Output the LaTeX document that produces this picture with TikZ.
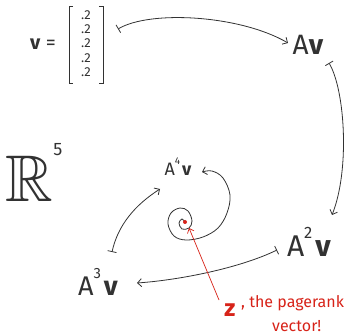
\documentclass[tikz,border=0pt]{standalone}
\usepackage{fontspec}
\usepackage{amssymb}
\usepackage{graphicx}
\setmainfont{Fira Sans}
\usetikzlibrary{arrows.meta}
\definecolor{ink}{RGB}{50,50,50}
\definecolor{redink}{RGB}{215,35,25}
\newcommand\apow[1]{A\raisebox{0.62em}{\scalebox{0.55}{#1}}\kern0.1em\textbf{v}}
\tikzset{
  lbl/.style={inner sep=0pt, text=ink},
  bracketline/.style={draw=ink, line width=0.8pt},
  conn/.style={draw=ink, line width=0.8pt,
    {Bar[width=9pt,line width=0.8pt]}-{Straight Barb[length=4pt,width=8pt,line width=0.8pt]}},
  spiral/.style={draw=ink, line width=0.8pt,
    -{Straight Barb[length=4pt,width=8pt,line width=0.8pt]}},
  redline/.style={draw=redink, line width=0.7pt,
    -{Straight Barb[length=4pt,width=7pt,line width=0.7pt]}}
}
\begin{document}
\begin{tikzpicture}[x=1pt,y=-1pt]
\useasboundingbox (0,0) rectangle (354,334);
% labels
\node[lbl, font=\fontsize{20}{20}\selectfont] (vlab) at (43,44) {\textbf{v} =};
\node[lbl, inner xsep=12pt, inner ysep=2pt, font=\fontsize{13}{14.4}\selectfont] (vec) at (86,45)
  {\setlength\tabcolsep{0pt}\begin{tabular}{c}.2\\.2\\.2\\.2\\.2\end{tabular}};
\draw[bracketline] ([xshift=4pt]vec.north west) -| (vec.south west) -- ++(4,0);
\draw[bracketline] ([xshift=-4pt]vec.north east) -| (vec.south east) -- ++(-4,0);
\node[lbl, font=\fontsize{28}{28}\selectfont] (Av) at (308,45) {A\textbf{v}};
\node[lbl, font=\fontsize{30}{30}\selectfont] (A2v) at (309,242) {\apow{2}};
\node[lbl, font=\fontsize{27}{27}\selectfont] (A3v) at (98,282) {\apow{3}};
\node[lbl, font=\fontsize{18}{18}\selectfont] (A4v) at (178,167) {\apow{4}};
\node[lbl, font=\fontsize{66}{66}\selectfont] (R) at (29,179) {$\mathbb{R}$};
\node[lbl, font=\fontsize{18}{18}\selectfont] (five) at (58,150) {5};
\coordinate (z0) at (185,222);
\node[lbl, text=redink, font=\fontsize{24}{24}\selectfont\bfseries] (Z) at (230,310) {z};
\node[lbl, text=redink, anchor=base west, font=\fontsize{16}{16}\selectfont] (pr) at (241,308) {, the pagerank};
\node[lbl, text=redink, anchor=base west, font=\fontsize{16}{16}\selectfont] (vect) at (272,331) {vector!};
% connectors
\draw[conn] ([shift={(32,-16)}]vec.center) .. controls (150,10) and (240,15) .. ([shift={(-20,-2)}]Av.center);
\draw[conn] ([shift={(21,18)}]Av.center) .. controls (345,90) and (350,170) .. ([shift={(23,-27)}]A2v.center);
\draw[conn] ([shift={(-32,8)}]A2v.center) .. controls (240,268) and (180,280) .. ([shift={(39,1)}]A3v.center);
\draw[conn] ([shift={(14,-30)}]A3v.center) .. controls (118,225) and (135,205) .. ([shift={(-18,22)}]A4v.center);
% spiral
\draw[spiral] plot[smooth, tension=0.6] coordinates {(z0) (182,219) (179,223) (182,229) (189,228) (192,221)
  (188,211) (180,208) (171,213) (168,224) (174,236) (186,240) (203,237) (218,228) (227,213)
  (230,195) (223,178) (212,171) ([shift={(24,5)}]A4v.center)};
\fill[redink] (z0) circle[radius=2];
\draw[redline] ([shift={(-11,-10)}]Z.center) -- ([shift={(4,6)}]z0);
\end{tikzpicture}
\end{document}
